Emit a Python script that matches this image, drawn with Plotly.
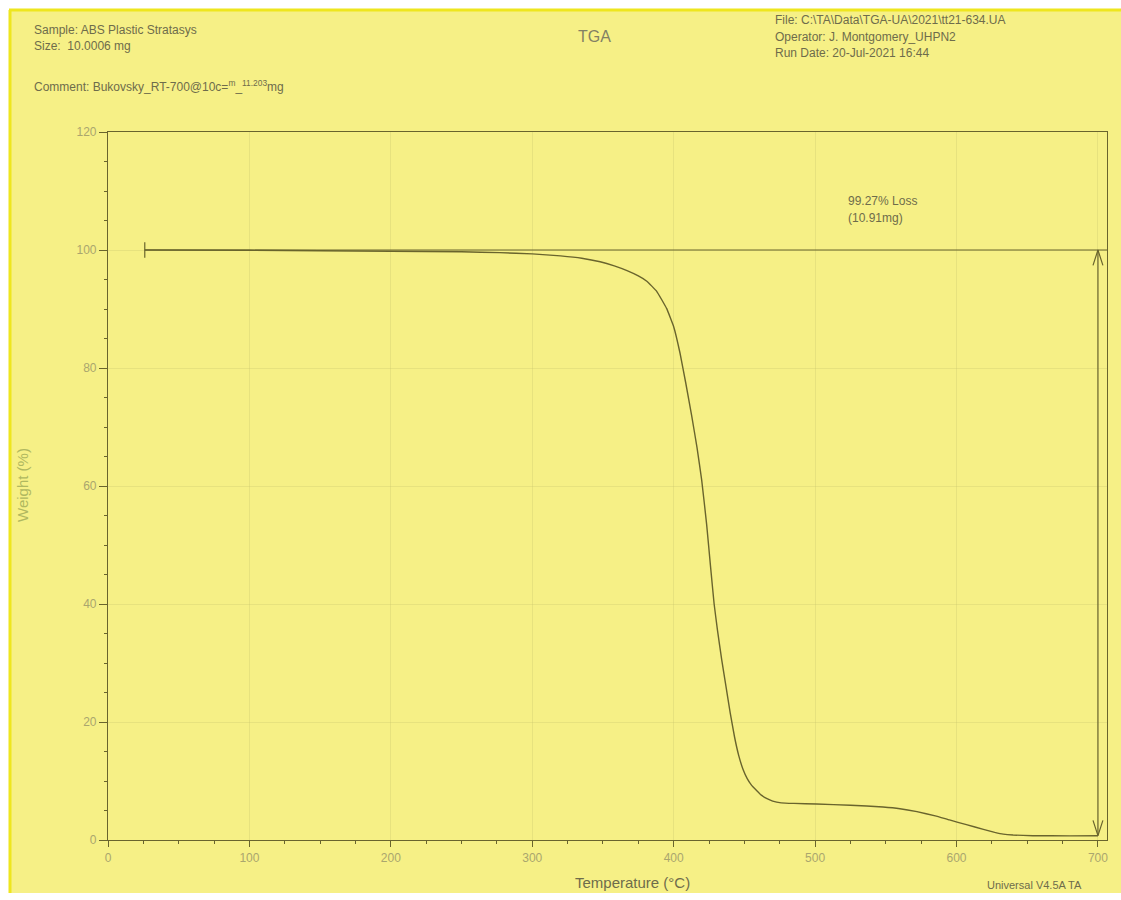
import plotly.graph_objects as go

# ---- data ----
temperature_c = [26, 100, 200, 250, 277, 300, 320, 335, 348, 358, 367, 375, 381, 388, 395,
                 400, 404.5, 408.5, 412.8, 416.5, 419.8, 423.3, 426, 428.6, 431, 434, 437,
                 440, 443, 446, 449, 452, 455, 458.6, 462, 466, 470, 476, 485, 501, 525,
                 548, 560, 572, 585, 595, 607, 619, 627, 633, 640, 654, 680, 700]
weight_pct = [100, 99.95, 99.8, 99.7, 99.55, 99.35, 99.0, 98.6, 98.0, 97.3, 96.5, 95.6, 94.7,
              93.0, 90.1, 87.0, 82.5, 77.5, 71.8, 66.5, 61.0, 53.5, 46.5, 40.0, 35.5, 30.5,
              26.0, 21.5, 17.5, 14.3, 12.0, 10.4, 9.3, 8.4, 7.6, 7.0, 6.6, 6.3, 6.2, 6.1,
              5.9, 5.6, 5.3, 4.8, 4.1, 3.4, 2.6, 1.8, 1.3, 1.0, 0.85, 0.73, 0.70, 0.73]

x_ticks = [0, 100, 200, 300, 400, 500, 600, 700]
y_ticks = [0, 20, 40, 60, 80, 100, 120]

loss_start_T = 26
loss_end_T = 700
loss_line_end_T = 706.4
loss_top = 100
loss_bottom = 0.73
loss_text = ["99.27% Loss", "(10.91mg)"]

header_left = ["Sample: ABS Plastic Stratasys", "Size:  10.0006 mg",
               "Comment: Bukovsky_RT-700@10c=<sup>m</sup>_<sup>11.203</sup>mg"]
header_right = ["File: C:\\TA\\Data\\TGA-UA\\2021\\tt21-634.UA",
                "Operator: J. Montgomery_UHPN2", "Run Date: 20-Jul-2021 16:44"]

# ---- styles ----
BG = "rgb(246,240,134)"
EDGE = "rgb(238,230,30)"
INK = "rgb(105,100,45)"
TXT = "rgb(110,108,75)"
TICKTXT = "rgb(170,166,110)"
GRID = "rgba(200,196,110,0.32)"
FONT = "Liberation Sans, Arial, sans-serif"

# plot-area pixel geometry (for paper coords)
L, R, T, B = 108, 1107, 132, 840
def px(xp):
    return (xp - L) / (R - L)
def py(yp):
    return (B - yp) / (B - T)

fig = go.Figure()

fig.add_trace(go.Scatter(x=temperature_c, y=weight_pct, mode="lines",
                         line=dict(color=INK, width=1.4, shape="spline", smoothing=0.3),
                         hoverinfo="skip", showlegend=False))

# loss annotation: horizontal baseline with start bar, vertical double arrow
line_style = dict(color=INK, width=1.2)
fig.add_trace(go.Scatter(x=[loss_start_T, loss_line_end_T], y=[loss_top, loss_top], mode="lines",
                         line=line_style, showlegend=False, hoverinfo="skip"))
fig.add_trace(go.Scatter(x=[loss_start_T, loss_start_T], y=[loss_top - 1.3, loss_top + 1.3],
                         mode="lines", line=line_style, showlegend=False, hoverinfo="skip"))
fig.add_trace(go.Scatter(x=[loss_end_T, loss_end_T], y=[loss_top, loss_bottom], mode="lines",
                         line=line_style, showlegend=False, hoverinfo="skip"))
ahw, ahh = 3.5, 2.6
fig.add_trace(go.Scatter(x=[loss_end_T - ahw, loss_end_T, loss_end_T + ahw],
                         y=[loss_top - ahh, loss_top, loss_top - ahh], mode="lines",
                         line=line_style, showlegend=False, hoverinfo="skip"))
fig.add_trace(go.Scatter(x=[loss_end_T - ahw, loss_end_T, loss_end_T + ahw],
                         y=[loss_bottom + ahh, loss_bottom, loss_bottom + ahh], mode="lines",
                         line=line_style, showlegend=False, hoverinfo="skip"))

annotations = []
for i, t in enumerate(header_left):
    annotations.append(dict(text=t, x=px(32), y=py([30, 46, 86][i]), xref="paper", yref="paper",
                            xanchor="left", yanchor="middle", showarrow=False,
                            font=dict(family=FONT, size=12, color=TXT)))
for i, t in enumerate(header_right):
    annotations.append(dict(text=t, x=px(773), y=py([20, 37, 53][i]), xref="paper", yref="paper",
                            xanchor="left", yanchor="middle", showarrow=False,
                            font=dict(family=FONT, size=12, color=TXT)))
annotations.append(dict(text="TGA", x=px(594), y=py(37), xref="paper", yref="paper",
                        xanchor="center", yanchor="middle", showarrow=False,
                        font=dict(family=FONT, size=16, color="rgb(130,128,100)")))
for i, t in enumerate(loss_text):
    annotations.append(dict(text=t, x=px(846), y=py([201, 218][i]), xref="paper", yref="paper",
                            xanchor="left", yanchor="middle", showarrow=False,
                            font=dict(family=FONT, size=12, color=TXT)))
annotations.append(dict(text="Temperature (°C)", x=px(632), y=py(883), xref="paper", yref="paper",
                        xanchor="center", yanchor="middle", showarrow=False,
                        font=dict(family=FONT, size=15, color=TXT)))
annotations.append(dict(text="Weight (%)", x=px(22), y=py(485), xref="paper", yref="paper",
                        xanchor="center", yanchor="middle", showarrow=False, textangle=-90,
                        font=dict(family=FONT, size=15, color="rgb(176,184,96)")))
annotations.append(dict(text="Universal V4.5A TA", x=px(985), y=py(885), xref="paper", yref="paper",
                        xanchor="left", yanchor="middle", showarrow=False,
                        font=dict(family=FONT, size=11, color=TXT)))

shapes = [
    dict(type="rect", xref="paper", yref="paper", x0=px(9), x1=px(1121), y0=py(893), y1=py(10),
         fillcolor=BG, line=dict(width=0), layer="below"),
    dict(type="line", xref="paper", yref="paper", x0=px(9), x1=px(1121), y0=py(10), y1=py(10),
         line=dict(color=EDGE, width=3), layer="below"),
    dict(type="line", xref="paper", yref="paper", x0=px(10), x1=px(10), y0=py(893), y1=py(10),
         line=dict(color=EDGE, width=3), layer="below"),
]

fig.update_layout(
    width=1121, height=900,
    margin=dict(l=L, r=1121 - R, t=T, b=900 - B),
    paper_bgcolor="white", plot_bgcolor="rgba(0,0,0,0)",
    showlegend=False,
    annotations=annotations, shapes=shapes,
    xaxis=dict(range=[0, loss_line_end_T], tickvals=x_ticks, ticks="outside", ticklen=6,
               tickcolor=INK, showline=True, linecolor=INK, linewidth=1.2, mirror=True,
               showgrid=True, gridcolor=GRID, gridwidth=1,
               zeroline=False, tickfont=dict(family=FONT, size=12, color=TICKTXT),
               minor=dict(dtick=25, tick0=0, ticks="outside", ticklen=3, tickcolor=INK,
                          showgrid=False)),
    yaxis=dict(range=[0, 120], tickvals=y_ticks, ticks="outside", ticklen=8,
               tickcolor=INK, showline=True, linecolor=INK, linewidth=1.2, mirror=True,
               showgrid=True, gridcolor=GRID, gridwidth=1,
               zeroline=False, tickfont=dict(family=FONT, size=12, color=TICKTXT),
               minor=dict(dtick=5, tick0=0, ticks="outside", ticklen=3, tickcolor=INK,
                          showgrid=False)),
)

fig.write_html("out.html", config={"displayModeBar": False},
               post_script="document.body.style.margin='0';")
